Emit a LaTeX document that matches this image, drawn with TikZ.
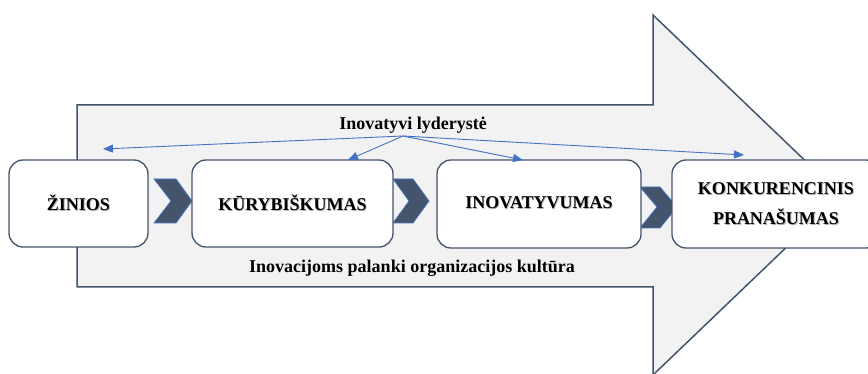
\documentclass[tikz,border=0pt]{standalone}
\usepackage{fontspec}
\setmainfont{Liberation Serif}
\usetikzlibrary{arrows.meta}
\definecolor{slate}{HTML}{44546A}
\definecolor{bigfill}{HTML}{F2F2F2}
\definecolor{linkblue}{HTML}{4472C4}
% bold text with a soft drop shadow
\newcommand\shtext[1]{\makebox[0pt][l]{\kern0.8pt\raisebox{-0.8pt}{\textcolor{black!30}{#1}}}#1}
\tikzset{
  stagebox/.style={draw=slate, line width=1.3pt, fill=white, rounded corners=14pt,
    font=\fontsize{18}{30}\selectfont\bfseries, align=center, inner sep=0pt},
  chevron/.style={fill=slate, draw=linkblue, line width=0.7pt, line join=miter},
  link/.style={draw=linkblue, line width=0.9pt, -{Triangle[length=10pt,width=8pt]}},
  caption/.style={font=\fontsize{18}{22}\selectfont\bfseries, inner sep=0pt}
}
\begin{document}
\begin{tikzpicture}[x=1pt, y=-1pt]
  \clip (0,0) rectangle (868,374);
  % large background arrow
  \draw[fill=bigfill, draw=slate, line width=1.5pt, line join=miter]
    (77,105) -- (653,105) -- (653,15) -- (841,195) -- (653,375) -- (653,287) -- (77,287) -- cycle;

  % chevrons between the stages
  \path[chevron] (154,179) -- (176,179) -- (192,201) -- (176,223) -- (154,223) -- (171,201) -- cycle;
  \path[chevron] (393,179) -- (413,179) -- (429,201) -- (413,223) -- (393,223) -- (409,201) -- cycle;
  \path[chevron] (640,187) -- (660,187) -- (677,207) -- (660,228) -- (640,228) -- (657,207) -- cycle;

  % stages
  \node[stagebox, minimum width=139pt, minimum height=87pt] (ziniai) at (78.5,203.5) {\shtext{ŽINIOS}};
  \node[stagebox, minimum width=201pt, minimum height=87pt] (kuryb) at (292.5,203.5) {\shtext{KŪRYBIŠKUMAS}};
  \node[stagebox, minimum width=204pt, minimum height=88pt] (inov) at (539,204) {\raisebox{2pt}{\shtext{INOVATYVUMAS}}};
  \node[stagebox, minimum width=208pt, minimum height=88pt] (konk) at (776,204) {\shtext{KONKURENCINIS}\\\shtext{PRANAŠUMAS}};

  % labels on the background arrow
  \node[caption] (lyder) at (413,125) {Inovatyvi lyderystė};
  \node[caption] (kultura) at (412,268) {Inovacijoms palanki organizacijos kultūra};

  % leadership links
  \coordinate (src) at (403,136);
  \coordinate (leftend) at (103,149);
  \coordinate (rightend) at (744,155);
  \coordinate (kurtop) at (348,160);
  \coordinate (inovtop) at (523,160);
  \draw[link] (src) -- (leftend);
  \draw[link] (src) -- (kurtop);
  \draw[link] (src) -- (inovtop);
  \draw[link] (src) -- (rightend);
\end{tikzpicture}
\end{document}
